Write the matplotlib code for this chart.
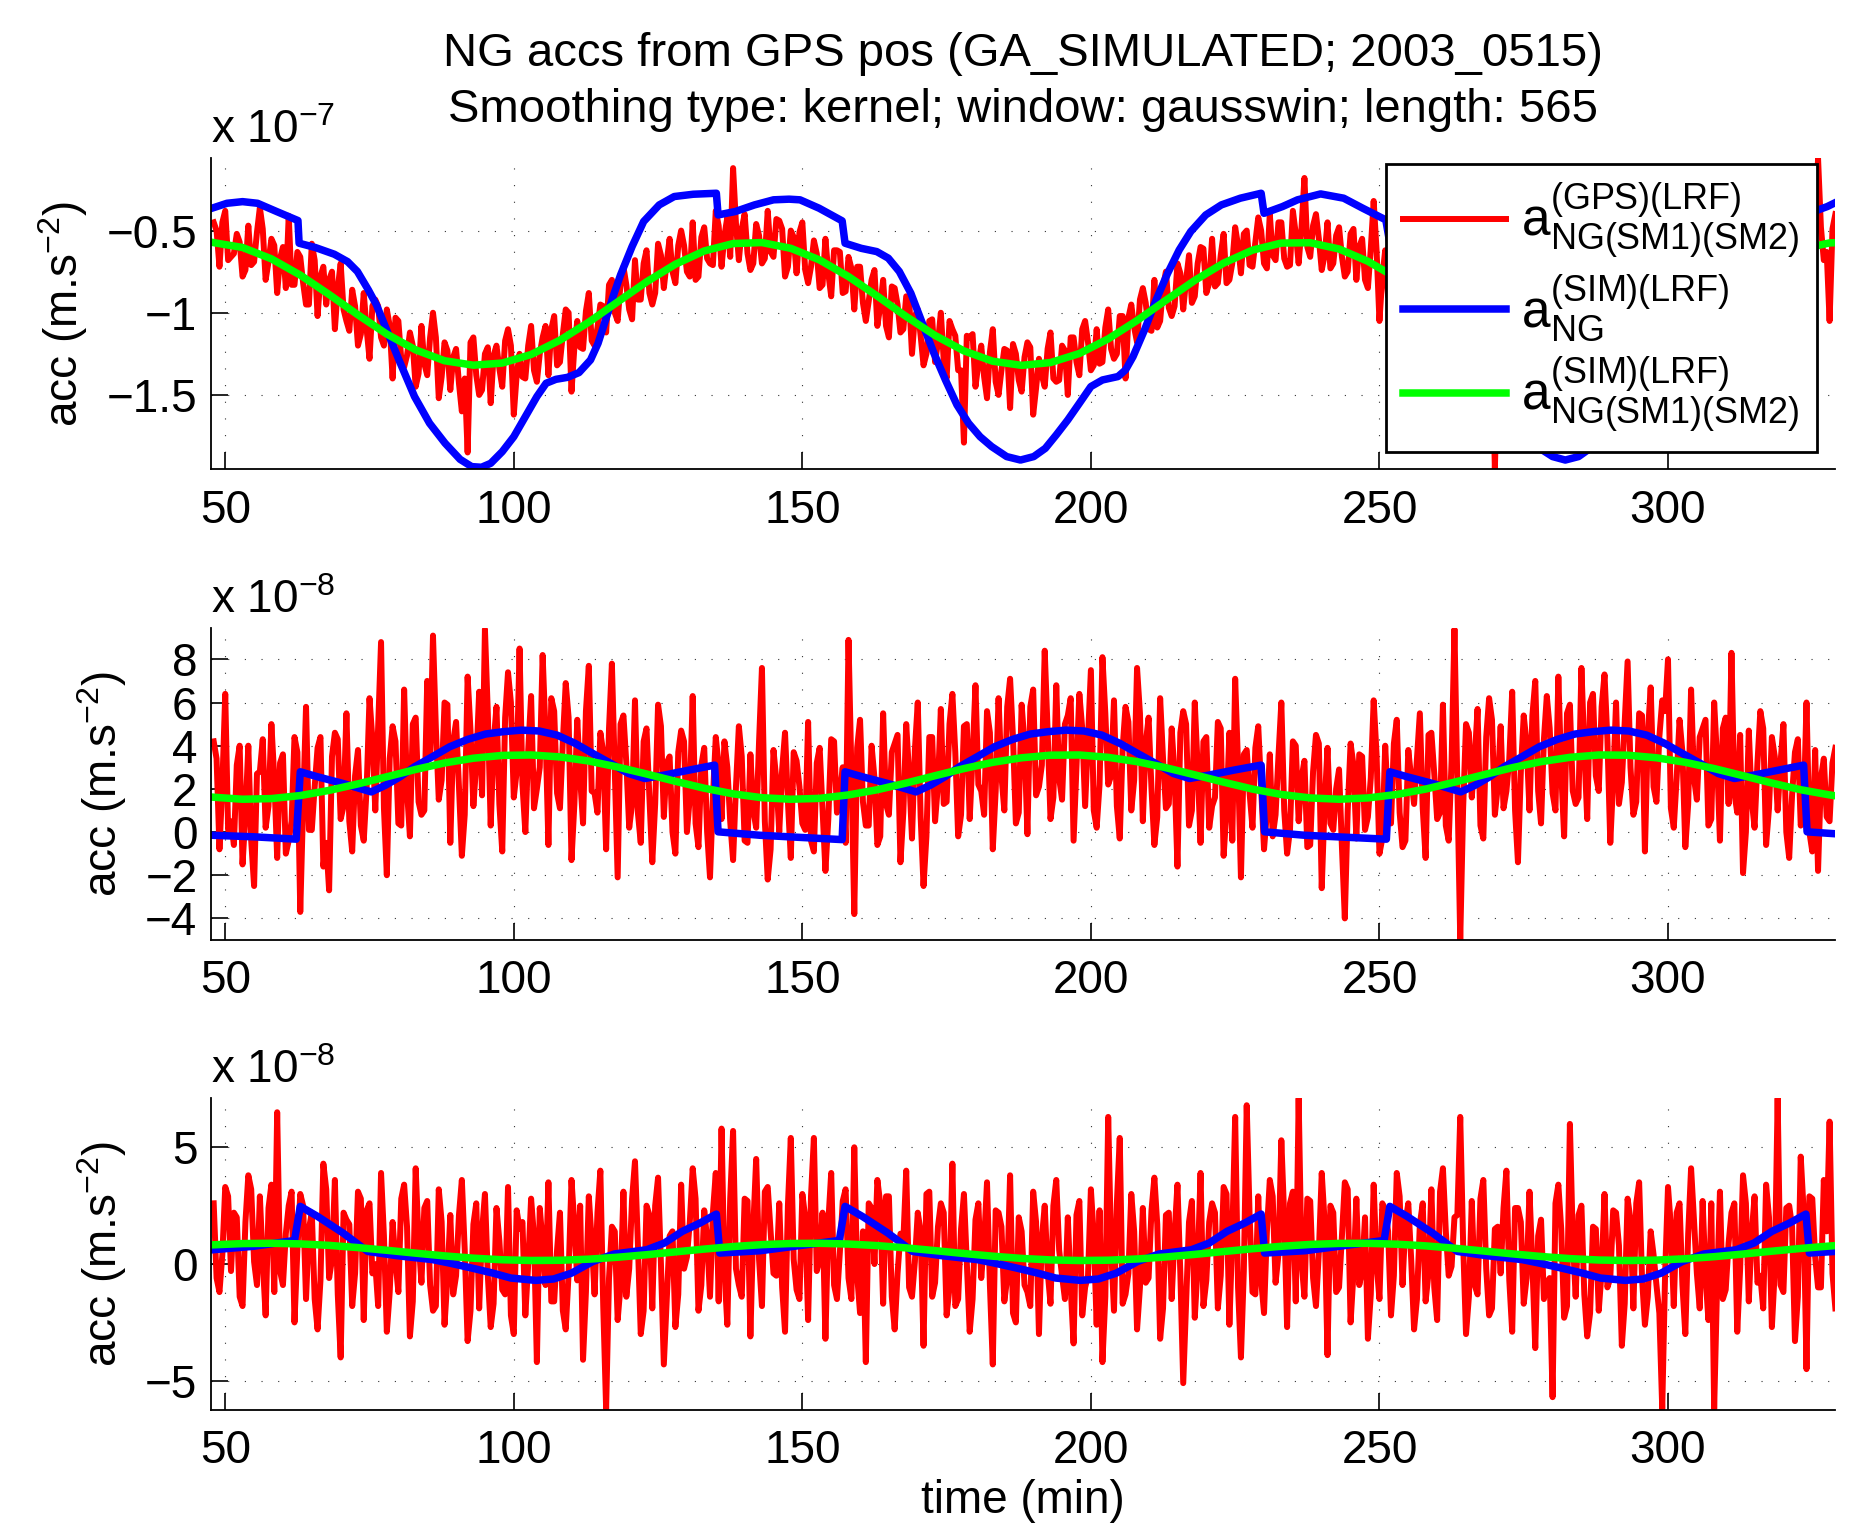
import numpy as np
import matplotlib.pyplot as plt

plt.rcParams['font.family'] = ['Liberation Sans', 'DejaVu Sans']
plt.rcParams['mathtext.fontset'] = 'custom'
plt.rcParams['mathtext.rm'] = 'Liberation Sans'
plt.rcParams['mathtext.default'] = 'regular'

# ---- data ----
# GPS derived accelerations (red): samples on whole minutes 48..329
# and on the half minutes 48.5..328.5 in between
red_top = [
    -0.45, -0.72, -0.38, -0.66, -0.52, -0.78, -0.47, -0.69, -0.36, -0.80,
    -0.55, -0.88, -0.60, -0.41, -0.83, -0.66, -0.95, -0.58, -1.02, -0.72,
    -0.80, -1.10, -0.70, -1.05, -0.86, -1.20, -0.88, -1.28, -0.92, -1.15,
    -0.98, -1.40, -1.05, -1.33, -1.12, -1.45, -1.08, -1.38, -1.00, -1.52,
    -1.18, -1.47, -1.22, -1.60, -1.85, -1.15, -1.50, -1.25, -1.55, -1.20,
    -1.45, -1.10, -1.62, -1.25, -1.40, -1.08, -1.42, -1.15, -1.38, -1.02,
    -1.30, -0.98, -1.48, -1.05, -1.22, -0.88, -1.20, -0.95, -1.12, -0.80,
    -1.05, -0.72, -0.98, -0.68, -0.92, -0.62, -0.95, -0.58, -0.85, -0.55,
    -0.82, -0.50, -0.75, -0.45, -0.78, -0.48, -0.70, -0.38, -0.72, -0.42,
    -0.12, -0.68, -0.40, -0.74, -0.46, -0.70, -0.38, -0.66, -0.44, -0.78,
    -0.50, -0.76, -0.45, -0.82, -0.56, -0.85, -0.55, -0.90, -0.62, -0.88,
    -0.66, -0.98, -0.72, -1.05, -0.80, -1.08, -0.80, -1.15, -0.85, -1.12,
    -0.90, -1.25, -0.98, -1.32, -1.05, -1.30, -1.00, -1.40, -1.10, -1.35,
    -1.79, -1.15, -1.45, -1.20, -1.52, -1.10, -1.50, -1.22, -1.58, -1.25,
    -1.48, -1.18, -1.62, -1.28, -1.45, -1.12, -1.42, -1.20, -1.50, -1.15,
    -1.38, -1.05, -1.35, -1.10, -1.30, -0.98, -1.28, -1.02, -1.40, -0.95,
    -1.18, -0.85, -1.10, -0.80, -1.05, -0.75, -1.02, -0.70, -0.98, -0.65,
    -0.90, -0.60, -0.88, -0.55, -0.82, -0.52, -0.80, -0.48, -0.76, -0.50,
    -0.72, -0.42, -0.70, -0.40, -0.68, -0.45, -0.72, -0.38, -0.70, -0.18,
    -0.66, -0.40, -0.74, -0.45, -0.70, -0.48, -0.78, -0.52, -0.80, -0.55,
    -0.85, -0.32, -1.05, -0.62, -0.88, -0.70, -0.98, -0.75, -1.05, -0.80,
    -1.08, -0.82, -1.12, -0.88, -1.15, -0.92, -1.25, -1.00, -1.30, -1.05,
    -1.32, -1.05, -1.95, -1.10, -1.40, -1.15, -1.48, -1.20, -1.52, -1.18,
    -1.50, -1.22, -1.58, -1.25, -1.45, -1.18, -1.55, -1.22, -1.48, -1.15,
    -1.42, -1.12, -1.50, -1.18, -1.38, -1.05, -1.35, -1.08, -1.40, -1.00,
    -1.25, -0.95, -1.28, -0.90, -1.20, -0.85, -1.15, -0.82, -1.10, -0.78,
    -1.00, -0.70, -0.98, -0.65, -0.92, -0.60, -0.88, -0.55, -0.85, -0.58,
    -0.80, -0.50, -0.78, -0.48, -0.72, -0.45, -0.70, -0.95, -0.06, -0.68,
    -1.05, -0.40,
]
red_top_half = [
    -0.50, -0.45, -0.68, -0.64, -0.57, -0.74, -0.71, -0.51, -0.49, -0.69,
    -0.59, -0.67, -0.85, -0.83, -0.63, -0.82, -0.95, -0.68, -0.78, -0.95,
    -0.75, -0.85, -0.98, -1.11, -0.96, -1.13, -1.10, -0.96, -0.96, -1.20,
    -1.08, -1.03, -1.28, -1.26, -1.20, -1.37, -1.31, -1.15, -1.15, -1.39,
    -1.23, -1.27, -1.43, -1.40, -1.18, -1.38, -1.47, -1.21, -1.26, -1.34,
    -1.17, -1.20, -1.38, -1.39, -1.20, -1.35, -1.25, -1.08, -1.10, -1.32,
    -1.13, -1.00, -1.21, -1.21, -0.99, -1.17, -1.09, -0.96, -0.83, -1.00,
    -0.82, -0.83, -1.04, -0.92, -0.70, -0.88, -0.88, -0.65, -0.69, -0.75,
    -0.59, -0.59, -0.78, -0.80, -0.54, -0.67, -0.71, -0.47, -0.53, -0.66,
    -0.46, -0.49, -0.64, -0.70, -0.53, -0.67, -0.63, -0.43, -0.49, -0.72,
    -0.54, -0.51, -0.74, -0.72, -0.64, -0.83, -0.76, -0.62, -0.63, -0.87,
    -0.73, -0.72, -0.94, -0.93, -0.74, -0.96, -1.08, -0.84, -0.95, -1.10,
    -0.91, -1.02, -1.14, -1.25, -1.04, -1.18, -1.29, -1.05, -1.14, -1.35,
    -1.14, -1.13, -1.31, -1.39, -1.24, -1.42, -1.35, -1.23, -1.19, -1.41,
    -1.27, -1.21, -1.46, -1.38, -1.22, -1.40, -1.41, -1.23, -1.15, -1.30,
    -1.10, -1.18, -1.32, -1.31, -1.09, -1.22, -1.25, -1.02, -1.03, -1.09,
    -0.92, -0.94, -1.11, -1.09, -0.84, -0.97, -0.96, -0.76, -0.80, -0.94,
    -0.70, -0.61, -0.82, -0.84, -0.65, -0.82, -0.70, -0.59, -0.52, -0.71,
    -0.57, -0.50, -0.73, -0.65, -0.45, -0.67, -0.71, -0.52, -0.48, -0.60,
    -0.47, -0.55, -0.65, -0.73, -0.53, -0.66, -0.75, -0.49, -0.60, -0.80,
    -0.61, -0.62, -0.78, -0.90, -0.73, -0.91, -0.88, -0.76, -0.74, -0.99,
    -0.86, -0.87, -1.08, -1.05, -0.90, -1.13, -1.23, -1.03, -1.01, -1.20,
    -1.03, -1.13, -1.28, -1.34, -1.14, -1.30, -1.36, -1.14, -1.22, -1.43,
    -1.20, -1.19, -1.35, -1.40, -1.27, -1.44, -1.38, -1.23, -1.17, -1.41,
    -1.26, -1.16, -1.40, -1.33, -1.17, -1.36, -1.22, -1.15, -1.06, -1.25,
    -1.00, -1.05, -1.20, -1.19, -0.95, -1.09, -1.09, -0.87, -0.91, -1.07,
    -0.82, -0.74, -0.93, -0.92, -0.75, -0.90, -0.78, -0.66, -0.58, -0.78,
    -0.63, -0.56, -0.80, -0.70, -0.50, -0.71, -0.73, -0.53, -0.48, -0.63,
    -0.49,
]

red_mid = [
    4.2, -0.8, 6.4, 0.5, 3.1, -1.5, 4.0, -2.5, 2.8, 0.2,
    5.0, -1.2, 3.6, -0.4, 4.4, -3.7, 5.8, 0.1, 3.9, -1.6,
    -2.7, 4.6, 0.6, 5.5, -0.9, 3.8, -0.4, 6.2, 1.0, 8.8,
    -2.0, 4.9, 0.4, 6.6, -0.2, 5.3, 0.8, 7.0, 9.1, 1.5,
    6.0, -0.5, 5.1, -1.1, 7.2, 1.2, 6.5, 9.4, 0.3, 5.8,
    -0.9, 7.4, 1.6, 8.5, 0.0, 6.3, 2.0, 8.2, -0.6, 5.6,
    1.1, 6.9, -1.3, 5.2, 0.4, 7.7, 1.8, 4.6, -0.8, 7.8,
    -2.1, 5.4, 0.2, 6.1, -0.5, 4.8, -1.4, 5.9, 0.7, 3.5,
    -1.0, 4.7, 0.0, 6.3, -0.7, 3.9, -2.1, 4.4, 0.6, 3.0,
    -1.3, 4.9, -0.4, 3.6, 0.2, 7.6, -2.2, 3.8, 0.0, 4.6,
    -1.2, 3.3, 0.4, 5.1, -0.9, 3.9, -1.8, 4.3, 0.9, 3.0,
    8.9, -3.8, 5.2, 0.3, 4.0, -0.6, 5.5, 0.8, 4.1, -1.4,
    5.0, -0.3, 6.0, -2.5, 4.4, 0.5, 5.7, 1.4, 6.4, -0.2,
    4.9, 0.6, 6.8, 1.9, 5.6, -0.8, 6.2, 1.0, 7.1, 0.4,
    5.9, -0.1, 6.6, 2.1, 8.4, 0.6, 6.8, 1.5, 5.4, -0.4,
    6.4, 1.2, 7.5, 0.2, 8.1, 2.2, 6.1, -0.3, 5.8, 1.0,
    7.6, 0.5, 5.3, -0.6, 6.2, 1.1, 4.8, -1.6, 5.6, 0.3,
    6.0, -0.5, 4.4, 1.2, 5.1, -1.1, 4.6, 7.1, -2.1, 3.8,
    0.2, 4.9, -0.8, 3.6, 0.8, 6.0, -1.0, 4.2, 0.5, 3.3,
    -0.6, 4.5, -2.6, 3.9, 0.1, 2.9, -4.0, 4.1, -0.3, 3.5,
    0.7, 6.1, -1.0, 4.0, 0.4, 5.2, -0.7, 3.8, 1.3, 5.5,
    -1.2, 4.6, 0.6, 5.9, -0.4, 9.4, -5.0, 5.0, 1.6, 5.7,
    -0.3, 6.2, 0.8, 4.9, 1.9, 6.5, -1.4, 5.4, 1.0, 7.0,
    0.4, 6.3, 1.8, 7.2, -0.2, 5.9, 1.3, 7.6, 0.6, 6.4,
    1.9, 7.3, -0.5, 6.0, 2.3, 7.9, 0.8, 5.5, -0.9, 6.7,
    1.4, 6.1, 8.0, 0.2, 5.2, -0.7, 6.6, 1.5, 4.8, 0.3,
    6.0, -0.4, 5.3, 8.3, 0.9, -1.9, 4.7, 0.2, 5.6, -0.6,
    4.4, 1.0, 5.0, -1.2, 3.7, 0.3, 6.0, -0.9, -1.8, 3.4,
    0.5, 3.9,
]
red_mid_half = [
    3.4, 2.2, 0.1, -0.6, 4.0, 0.8, -0.4, 2.7, 4.3, 1.2,
    2.5, 3.2, -1.0, 0.5, 3.7, 1.3, 0.1, 2.1, 4.4, -0.5,
    3.5, 4.3, 1.2, 0.5, 2.6, 0.3, 2.0, 4.3, 4.9, 1.1,
    3.4, 4.2, 0.3, 1.9, 5.0, 1.4, 1.0, 3.4, 4.8, 2.4,
    5.9, 4.2, 2.1, 0.8, 4.7, 3.2, 1.7, 5.5, 4.1, 1.3,
    5.3, 6.0, 2.8, 2.2, 3.8, 1.1, 3.0, 4.6, 6.2, 1.8,
    4.2, 5.3, 1.3, 2.5, 5.6, 1.9, 0.9, 3.7, 4.8, 2.8,
    5.0, 3.2, 1.3, 0.9, 4.2, 1.6, 1.3, 4.9, 3.2, 0.0,
    3.7, 4.2, 1.6, 0.4, 3.1, 0.0, 1.6, 3.1, 4.2, 0.5,
    2.1, 3.5, -0.5, 1.0, 4.2, 0.5, -0.8, 2.4, 2.9, 1.4,
    3.7, 2.1, 0.1, -0.4, 3.2, 1.1, 0.6, 4.2, 1.8, -0.5,
    2.8, 3.9, 1.4, 0.3, 2.5, -0.2, 1.3, 3.7, 4.5, 0.9,
    2.7, 3.8, 0.7, -0.2, 4.4, 2.2, 1.3, 5.0, 3.7, 0.8,
    5.0, 3.5, 2.2, 0.8, 4.6, 1.9, 2.6, 5.8, 4.4, 0.9,
    4.1, 5.8, 1.7, 3.1, 4.7, 1.6, 2.5, 5.0, 6.2, 3.0,
    4.8, 4.3, 1.0, 2.2, 5.5, 2.6, 1.2, 3.9, 5.1, 2.4,
    5.5, 4.1, 2.0, 0.7, 3.4, 1.3, 2.6, 4.6, 5.0, 1.0,
    3.0, 4.2, 0.2, 1.6, 4.8, 1.0, -0.4, 3.1, 3.6, 1.8,
    3.9, 2.1, 0.9, -0.2, 3.5, 1.0, 0.1, 4.0, 2.5, -0.7,
    2.8, 4.1, 1.3, 0.4, 2.0, -0.7, 1.0, 3.1, 3.6, 0.1,
    2.5, 3.6, -0.3, 1.2, 4.1, 0.9, -0.4, 2.5, 3.4, 1.1,
    4.5, 2.7, 0.9, 0.3, 3.3, 2.1, 1.1, 4.6, 3.4, 0.3,
    4.4, 5.2, 2.1, 1.1, 3.4, 1.0, 2.8, 4.1, 5.4, 1.9,
    4.3, 4.8, 1.0, 2.8, 5.5, 1.9, 1.6, 3.8, 6.0, 2.6,
    5.8, 4.3, 2.4, 1.3, 5.1, 3.0, 1.4, 5.4, 4.5, 2.1,
    4.4, 5.6, 1.1, 2.5, 3.7, 1.3, 2.5, 4.4, 5.2, 0.6,
    3.4, 4.8, 1.3, 1.8, 4.5, 0.0, 1.5, 3.2, 4.8, 1.1,
    3.5, 3.2, 0.0, 1.7, 4.3, 0.9, 0.0, 3.8, 2.5, 0.7,
    3.2,
]

red_bot = [
    2.6, -1.2, 3.3, -0.3, 2.0, -1.8, 3.8, 0.1, 2.9, -2.2,
    3.4, 6.5, -0.9, 2.5, -2.5, 3.0, -1.5, 2.2, -2.8, 4.3,
    -0.6, 3.6, -4.0, 1.9, -1.8, 3.1, -2.4, 2.6, 0.0, 3.9,
    -2.9, 1.8, -1.2, 3.4, -3.1, 4.1, -0.8, 2.7, -2.0, 3.2,
    -2.6, 2.1, -0.5, 3.6, -3.3, 1.7, -1.9, 3.0, -2.7, 2.4,
    -1.1, 3.3, -3.0, 1.5, -2.2, 2.8, -4.2, 0.9, 3.5, -1.6,
    2.2, -2.8, 3.6, -0.7, -4.1, 2.9, -1.3, 4.0, -6.2, 1.6,
    -2.4, 3.1, -0.2, 4.4, -3.0, 2.5, -1.9, 3.7, -4.3, 1.2,
    -2.7, 3.4, 0.3, 4.1, -2.0, 2.3, -1.4, 3.9, 5.8, -2.6,
    5.7, -0.9, 2.8, -3.1, 4.5, -1.8, 3.3, -0.4, 2.6, -2.9,
    5.4, -1.1, 3.0, -2.4, 5.4, 0.2, -3.2, 3.9, -1.5, 2.7,
    -0.6, 5.0, -2.1, -4.2, 2.4, 3.6, -1.7, 2.9, -2.8, 1.3,
    4.0, -1.4, 2.2, -3.5, 3.1, -0.8, 2.6, -2.2, 4.3, -1.5,
    3.0, -2.9, 1.9, -0.6, 3.5, -4.3, 2.2, -1.6, 3.8, -2.5,
    1.4, -1.2, 3.1, -3.0, 2.5, -1.7, 3.6, -0.5, 2.0, -3.4,
    2.7, -1.0, 3.2, -2.6, -4.2, 6.3, -2.0, 5.4, -1.3, 3.0,
    -2.8, 2.4, -0.6, 3.7, -3.2, 2.1, -1.5, 3.4, -5.1, 1.8,
    -2.3, 3.9, -0.7, 2.6, -1.9, 3.3, -2.6, 6.3, -4.0, 6.8,
    -1.2, 2.9, -2.1, 3.6, -0.8, 5.3, -2.7, 3.1, 7.1, -1.4,
    2.7, -1.8, 3.9, -3.9, 2.2, -1.0, 3.5, -2.5, 2.8, -0.3,
    -3.2, 3.4, -1.5, 2.3, -2.2, 3.9, -0.9, 2.6, -2.8, 1.7,
    -1.6, 3.2, -2.4, 4.1, -0.5, 2.0, 6.3, -3.0, 2.7, -1.3,
    3.6, -2.2, 1.5, -0.4, 4.0, -2.9, 2.4, -1.7, 3.1, -3.6,
    1.9, -0.8, -5.7, 3.4, -2.3, 6.0, -1.4, 2.5, -3.1, 1.6,
    -2.0, 3.0, -0.6, 2.2, -3.5, 2.8, -1.9, 3.5, -2.6, 1.4,
    -0.9, -6.2, 3.3, -1.8, 2.6, -3.0, 4.1, -0.4, 2.7, -2.4,
    -6.2, 3.1, -1.1, 2.2, -2.9, 3.8, -1.6, 2.9, -0.5, 3.4,
    -2.7, 7.1, -1.2, 2.5, -3.3, 4.6, -4.5, 2.8, -1.0, 3.6,
    6.1, -1.9,
]
red_bot_half = [
    -0.6, 0.4, 2.9, 2.2, -1.4, 1.8, 3.2, -0.9, 0.1, 2.4,
    -1.2, -0.3, 1.3, 3.1, 0.6, 2.5, 1.5, -1.5, -0.7, 3.2,
    0.2, -1.3, 2.2, 1.7, -0.4, 2.8, 2.3, -0.4, -1.8, 1.2,
    -1.2, 0.1, 2.8, 1.6, -1.6, 1.0, 2.4, -0.9, -1.8, 1.8,
    -0.6, -1.3, 2.1, 0.6, -2.0, 2.6, 1.4, -0.5, -1.7, 1.0,
    -1.3, -2.2, 2.3, 1.8, 0.0, 1.2, 2.4, -0.9, -1.6, 0.6,
    -2.0, -0.4, 1.7, 2.5, -1.2, 1.0, 2.2, -1.8, -0.6, 1.4,
    -0.9, -1.4, 2.8, 0.9, -2.0, 2.1, 2.5, 0.0, -1.6, 1.4,
    -1.3, -0.2, 1.8, 2.8, -0.9, 1.1, 2.2, -1.6, -0.3, 2.8,
    -0.2, -1.4, 2.7, 1.6, 0.2, 3.1, 1.4, -0.5, -1.0, 2.5,
    0.2, -1.5, 2.0, 2.9, -0.3, 2.2, 1.8, -0.9, 0.5, 3.2,
    -1.5, -0.5, 1.4, 2.6, 0.0, 2.6, 2.9, -1.4, -0.4, 1.0,
    -1.0, 0.1, 1.4, 3.0, -1.4, 1.6, 2.2, -1.0, -1.8, 1.5,
    0.0, -1.5, 2.6, 1.0, -0.9, 2.3, 1.6, -0.6, -2.1, 2.0,
    -0.9, -1.8, 1.8, 1.1, -0.3, 2.5, 0.6, -1.5, -1.0, 2.1,
    -2.2, -0.5, 1.2, 2.3, -1.4, 0.7, 2.6, -1.7, -0.4, 1.4,
    -1.0, -0.8, 2.3, 1.7, -1.9, 2.2, 1.3, -0.4, -1.7, 2.7,
    -0.1, -1.8, 1.8, 2.2, -0.5, 3.0, 1.2, -1.0, -0.3, 2.1,
    -1.3, -0.7, 1.4, 2.9, 0.4, 2.0, 2.6, -1.6, 0.1, 2.8,
    -0.6, 0.5, 1.8, 2.5, -1.2, 1.2, 3.2, -0.4, -0.9, 2.0,
    -1.3, 0.0, 2.6, 1.4, -0.5, 2.9, 1.8, 0.2, -1.5, 2.6,
    -0.4, -1.0, 3.1, 1.4, -0.1, 2.1, 0.9, -1.4, -0.9, 2.8,
    -0.2, -1.9, 1.6, 2.4, -0.7, 2.4, 1.8, -0.6, 0.0, 1.2,
    -1.5, -0.6, 2.6, 1.5, -1.8, 1.1, 2.1, -1.3, -2.1, 1.5,
    -0.3, -1.0, 2.3, 0.8, -1.7, 1.9, 2.6, -0.6, -1.4, 0.4,
    -2.1, -0.4, 1.6, 2.2, -0.9, 1.3, 1.9, -1.9, -0.5, 2.6,
    -1.0, -1.5, 0.9, 2.6, -0.2, 2.6, 1.3, -0.8, -1.9, 2.0,
    -0.3, -0.9, 2.4, 1.6, -1.4, 2.3, 2.9, 0.3, -1.0, 1.4,
    -0.4,
]

# simulated NG acceleration (blue)
blue_top_t = [47.7, 50.3, 53.0, 55.6, 58.9, 62.6, 62.8, 65.6, 68.9, 71.2,
              72.9, 74.8, 76.2, 77.5, 80.1, 82.8, 85.4, 88.1, 90.7, 92.7,
              94.4, 96.0, 98.0, 100.0, 102.0, 104.0, 105.6, 107.3, 109.3, 111.3,
              113.3, 114.6, 115.9, 117.2, 118.5, 120.5, 122.5, 125.2, 127.8, 131.1,
              135.1, 135.4, 138.4, 141.7, 145.0, 147.7, 149.6, 152.9, 156.9, 157.4,
              160.2, 162.9, 164.9, 166.8, 168.8, 170.8, 172.8, 174.8, 176.8, 178.8,
              180.8, 182.8, 185.4, 187.8, 190.1, 192.1, 194.0, 196.0, 198.0, 200.0,
              202.0, 204.7, 206.0, 207.3, 209.3, 211.3, 213.3, 215.3, 217.3, 219.9,
              222.6, 225.9, 229.5, 230.0, 233.2, 235.8, 239.8, 243.8, 247.1, 251.1,
              251.8, 254.6, 257.3, 259.3, 261.3, 263.3, 265.3, 267.3, 269.3, 271.3,
              273.3, 275.3, 277.3, 280.0, 282.2, 284.5, 286.5, 288.5, 290.5, 292.5,
              294.5, 296.5, 299.0, 300.4, 301.7, 303.7, 305.7, 307.7, 309.7, 311.7,
              314.3, 317.0, 320.3, 324.0, 324.4, 327.6, 329.0]
blue_top = [-0.364, -0.334, -0.324, -0.334, -0.384, -0.439, -0.577, -0.603, -0.644, -0.689,
            -0.749, -0.861, -0.952, -1.064, -1.287, -1.510, -1.672, -1.794, -1.892, -1.936,
            -1.940, -1.916, -1.845, -1.754, -1.632, -1.510, -1.429, -1.405, -1.393, -1.364,
            -1.287, -1.186, -1.044, -0.902, -0.770, -0.597, -0.445, -0.344, -0.293, -0.279,
            -0.273, -0.405, -0.384, -0.344, -0.313, -0.309, -0.313, -0.364, -0.441, -0.577,
            -0.608, -0.628, -0.668, -0.749, -0.881, -1.064, -1.246, -1.409, -1.561, -1.672,
            -1.754, -1.814, -1.875, -1.896, -1.875, -1.825, -1.743, -1.652, -1.551, -1.449,
            -1.409, -1.388, -1.348, -1.267, -1.104, -0.922, -0.760, -0.618, -0.506, -0.405,
            -0.344, -0.303, -0.273, -0.395, -0.354, -0.313, -0.277, -0.303, -0.364, -0.435,
            -0.577, -0.608, -0.628, -0.668, -0.749, -0.881, -1.064, -1.246, -1.409, -1.561,
            -1.672, -1.754, -1.814, -1.875, -1.896, -1.875, -1.825, -1.743, -1.652, -1.551,
            -1.449, -1.409, -1.388, -1.348, -1.267, -1.104, -0.922, -0.760, -0.618, -0.506,
            -0.405, -0.344, -0.303, -0.273, -0.395, -0.354, -0.330]

blue_mid_t = [47.8, 54.9, 62.3, 63.0, 66.0, 70.4, 75.3, 77.8, 80.3, 82.8,
              85.9, 88.9, 92.0, 95.1, 98.2, 101.3, 104.4, 107.5, 110.6, 113.7,
              116.8, 119.9, 122.7, 126.1, 130.4, 134.8, 135.4, 142.7, 156.9, 157.4,
              160.4, 164.8, 169.7, 172.2, 174.7, 177.2, 180.3, 183.3, 186.4, 189.5,
              192.6, 195.7, 198.8, 201.9, 205.0, 208.1, 211.2, 214.3, 217.1, 220.5,
              224.8, 229.5, 230.1, 237.1, 251.2, 251.8, 254.8, 259.2, 264.1, 266.6,
              269.1, 271.6, 274.7, 277.7, 280.8, 283.9, 287.0, 290.1, 293.2, 296.3,
              299.4, 302.5, 305.6, 308.7, 311.5, 314.9, 319.2, 323.5, 324.1, 329.0]
blue_mid = [-0.15, -0.22, -0.33, 2.79, 2.56, 2.25, 1.86, 2.17, 2.56, 3.02,
            3.49, 3.95, 4.29, 4.54, 4.65, 4.72, 4.68, 4.49, 4.11, 3.64,
            3.18, 2.71, 2.48, 2.64, 2.87, 3.10, 0.01, -0.15, -0.35, 2.79,
            2.56, 2.25, 1.86, 2.17, 2.56, 3.02, 3.49, 3.95, 4.29, 4.54,
            4.65, 4.72, 4.68, 4.49, 4.11, 3.64, 3.18, 2.71, 2.48, 2.64,
            2.87, 3.10, 0.01, -0.15, -0.33, 2.79, 2.56, 2.25, 1.86, 2.17,
            2.56, 3.02, 3.49, 3.95, 4.29, 4.54, 4.65, 4.72, 4.68, 4.49,
            4.11, 3.64, 3.18, 2.71, 2.48, 2.64, 2.87, 3.10, 0.01, -0.08]

blue_bot_t = [47.8, 54.9, 62.0, 63.0, 66.0, 70.4, 74.7, 79.7, 85.9, 88.9,
              92.7, 96.4, 99.5, 103.8, 106.9, 110.0, 113.7, 117.4, 123.0, 126.1,
              129.2, 132.3, 135.1, 135.7, 142.7, 156.4, 157.4, 160.4, 164.8, 169.1,
              174.1, 180.3, 183.3, 187.1, 190.8, 193.9, 198.2, 201.3, 204.4, 208.1,
              211.8, 217.4, 220.5, 223.6, 226.7, 229.5, 230.1, 237.1, 250.8, 251.8,
              254.8, 259.2, 263.5, 268.5, 274.7, 277.7, 281.5, 285.2, 288.3, 292.6,
              295.7, 298.8, 302.5, 306.2, 311.8, 314.9, 318.0, 321.1, 323.9, 324.5,
              329.0]
blue_bot = [0.61, 0.76, 1.01, 2.47, 2.04, 1.33, 0.54, 0.36, 0.19, 0.04,
            -0.17, -0.39, -0.60, -0.70, -0.64, -0.39, 0.11, 0.43, 0.61, 0.90,
            1.40, 1.76, 2.14, 0.47, 0.57, 1.01, 2.47, 2.04, 1.33, 0.54,
            0.36, 0.19, 0.04, -0.17, -0.39, -0.60, -0.70, -0.64, -0.39, 0.11,
            0.43, 0.61, 0.90, 1.40, 1.76, 2.14, 0.47, 0.57, 1.01, 2.47,
            2.04, 1.33, 0.54, 0.36, 0.19, 0.04, -0.17, -0.39, -0.60, -0.70,
            -0.64, -0.39, 0.11, 0.43, 0.61, 0.90, 1.40, 1.76, 2.14, 0.47,
            0.54]

# smoothed simulated acceleration (green), read every 5 min
green_t = [47.6] + list(range(53, 329, 5)) + [329.0]
green_top = [-0.571, -0.603, -0.672, -0.771, -0.889, -1.013, -1.130, -1.226, -1.292, -1.319,
             -1.306, -1.254, -1.167, -1.057, -0.934, -0.812, -0.705, -0.624, -0.579, -0.573,
             -0.608, -0.679, -0.780, -0.899, -1.023, -1.138, -1.232, -1.295, -1.320, -1.303,
             -1.248, -1.159, -1.047, -0.924, -0.803, -0.698, -0.619, -0.576, -0.574, -0.612,
             -0.687, -0.789, -0.909, -1.033, -1.147, -1.239, -1.299, -1.320, -1.300, -1.242,
             -1.151, -1.037, -0.914, -0.794, -0.690, -0.614, -0.575, -0.574]
green_mid = [1.62, 1.52, 1.55, 1.69, 1.93, 2.23, 2.56, 2.90, 3.20, 3.42,
             3.55, 3.57, 3.48, 3.29, 3.01, 2.69, 2.35, 2.03, 1.77, 1.59,
             1.52, 1.56, 1.72, 1.96, 2.27, 2.61, 2.94, 3.23, 3.44, 3.56,
             3.57, 3.46, 3.26, 2.98, 2.65, 2.31, 1.99, 1.74, 1.58, 1.52,
             1.58, 1.74, 1.99, 2.31, 2.65, 2.98, 3.26, 3.46, 3.57, 3.56,
             3.44, 3.23, 2.94, 2.61, 2.27, 1.96, 1.72, 1.68]
green_bot = [0.82, 0.876, 0.889, 0.863, 0.799, 0.704, 0.589, 0.466, 0.349, 0.251,
             0.183, 0.152, 0.161, 0.209, 0.291, 0.399, 0.520, 0.641, 0.749, 0.831,
             0.879, 0.888, 0.857, 0.789, 0.691, 0.574, 0.451, 0.336, 0.241, 0.177,
             0.151, 0.164, 0.217, 0.303, 0.413, 0.535, 0.655, 0.760, 0.839, 0.883,
             0.887, 0.850, 0.778, 0.677, 0.559, 0.437, 0.324, 0.232, 0.172, 0.150,
             0.169, 0.226, 0.315, 0.428, 0.550, 0.668, 0.771, 0.79]

x_ticks = [50, 100, 150, 200, 250, 300]
top_yticks = [-1.5, -1, -0.5]
top_ylabels = ['\u22121.5', '\u22121', '\u22120.5']
mid_yticks = [-4, -2, 0, 2, 4, 6, 8]
mid_ylabels = ['\u22124', '\u22122', '0', '2', '4', '6', '8']
bot_yticks = [-5, 0, 5]
bot_ylabels = ['\u22125', '0', '5']

legend_labels = [r'$a^{(GPS)(LRF)}_{NG(SM1)(SM2)}$',
                 r'$a^{(SIM)(LRF)}_{NG}$',
                 r'$a^{(SIM)(LRF)}_{NG(SM1)(SM2)}$']


def merge(whole, half):
    # whole-minute and half-minute samples in time order
    out = np.empty(len(whole) + len(half))
    out[0::2] = whole
    out[1::2] = half
    return out


time_red = np.arange(48, 329.25, 0.5)

# ---- figure ----
fig = plt.figure(figsize=(18.69, 15.23), dpi=100)
fig.patch.set_facecolor('white')

panels = [
    dict(rect=[0.1131, 0.6919, 0.8689, 0.2042], red=merge(red_top, red_top_half),
         blue_t=blue_top_t, blue=blue_top, green=green_top, ylim=(-1.952, -0.06),
         yt=top_yticks, yl=top_ylabels, exp='-7'),
    dict(rect=[0.1131, 0.3828, 0.8689, 0.2047], red=merge(red_mid, red_mid_half),
         blue_t=blue_mid_t, blue=blue_mid, green=green_mid, ylim=(-5.0, 9.44),
         yt=mid_yticks, yl=mid_ylabels, exp='-8'),
    dict(rect=[0.1131, 0.0742, 0.8689, 0.2047], red=merge(red_bot, red_bot_half),
         blue_t=blue_bot_t, blue=blue_bot, green=green_bot, ylim=(-6.25, 7.1),
         yt=bot_yticks, yl=bot_ylabels, exp='-8'),
]

FS = 33
axes = []
for p in panels:
    ax = fig.add_axes(p['rect'])
    l1, = ax.plot(time_red, p['red'], color='#ff0000', lw=4.3)
    l2, = ax.plot(p['blue_t'], p['blue'], color='#0000ff', lw=5.4)
    l3, = ax.plot(green_t, p['green'], color='#00ff00', lw=5.4)
    ax.set_xlim(47.6, 329.0)
    ax.set_ylim(*p['ylim'])
    ax.set_xticks(x_ticks)
    ax.set_xticklabels([str(v) for v in x_ticks])
    ax.set_yticks(p['yt'])
    ax.set_yticklabels(p['yl'])
    ax.tick_params(direction='in', length=12, width=1.2, labelsize=FS, pad=10,
                   top=False, right=False)
    ax.tick_params(axis='x', pad=14)
    ax.grid(True, color='#333333', lw=0.8, linestyle=(0, (1, 14)))
    for s in ['top', 'right']:
        ax.spines[s].set_visible(False)
    for s in ['left', 'bottom']:
        ax.spines[s].set_linewidth(1.3)
    ax.set_ylabel('acc (m.s$^{\u22122}$)', fontsize=FS, labelpad=12)
    ax.text(0.0, 1.05, 'x 10$^{%s}$' % p['exp'].replace('-', '\u2212'), transform=ax.transAxes,
            fontsize=FS, ha='left', va='baseline')
    axes.append((ax, (l1, l2, l3)))

ax0, handles = axes[0]
ax0.set_title('NG accs from GPS pos (GA_SIMULATED; 2003_0515)\n'
              'Smoothing type: kernel; window: gausswin; length: 565',
              fontsize=34, pad=26, linespacing=1.35)
leg = ax0.legend(handles, legend_labels, loc='upper right', bbox_to_anchor=(0.9887, 0.9817),
                 borderaxespad=0, fontsize=37, frameon=True, fancybox=False,
                 framealpha=1, edgecolor='black', handlelength=2.0, handletextpad=0.3,
                 labelspacing=0.22, borderpad=0.33)
leg.get_frame().set_linewidth(2)

axes[2][0].set_xlabel('time (min)', fontsize=FS, labelpad=4)

fig.savefig('out.png', dpi=100)
